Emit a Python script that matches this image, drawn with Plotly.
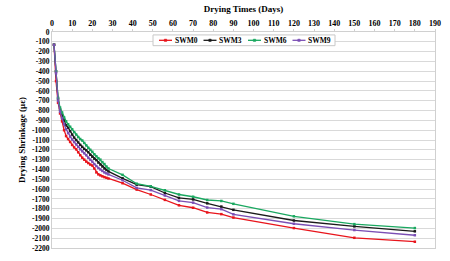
import plotly.graph_objects as go

days = [1, 2, 3, 4, 5, 6, 7, 8, 9, 10, 11, 12, 13, 14, 15, 16, 17, 18, 19, 20,
        21, 22, 23, 24, 25, 26, 27, 28, 35, 42, 49, 56, 63, 70, 77, 84, 90, 120, 150, 180]

swm0 = [-130, -500, -720, -830, -910, -1000, -1060, -1090, -1120, -1150, -1175, -1195, -1225, -1255,
        -1280, -1300, -1320, -1335, -1350, -1360, -1390, -1430, -1450, -1460, -1470, -1478, -1485, -1492,
        -1540, -1605, -1655, -1710, -1765, -1790, -1838, -1855, -1890, -1997, -2096, -2136]
swm3 = [-130, -400, -680, -790, -850, -900, -950, -975, -1010, -1045, -1075, -1100, -1125, -1150,
        -1170, -1190, -1205, -1225, -1250, -1270, -1290, -1305, -1330, -1350, -1370, -1390, -1405, -1420,
        -1490, -1555, -1575, -1640, -1690, -1705, -1745, -1778, -1811, -1920, -1980, -2030]
swm6 = [-130, -400, -670, -770, -820, -870, -910, -940, -965, -990, -1020, -1045, -1070, -1090,
        -1105, -1130, -1155, -1180, -1200, -1220, -1245, -1265, -1285, -1300, -1325, -1345, -1370, -1390,
        -1455, -1545, -1572, -1612, -1655, -1678, -1711, -1721, -1750, -1877, -1957, -1997]
swm9 = [-130, -420, -700, -810, -880, -940, -990, -1030, -1065, -1095, -1120, -1145, -1170, -1195,
        -1215, -1235, -1255, -1280, -1300, -1320, -1345, -1365, -1385, -1400, -1415, -1430, -1440, -1450,
        -1510, -1588, -1610, -1665, -1720, -1738, -1788, -1804, -1857, -1953, -2017, -2070]

names = ["SWM0", "SWM3", "SWM6", "SWM9"]
colors = ["#e8141b", "#1a1a1a", "#1aa860", "#7b4fb5"]
series = [swm0, swm3, swm6, swm9]

x_ticks = list(range(0, 200, 10))
y_ticks = list(range(-2200, 1, 100))

font_family = "Liberation Serif"

W, H = 450, 261
ML, MR, MT, MB = 52, 15, 32, 8
PW, PH = W - ML - MR, H - MT - MB


def px_x(px):
    return (px - ML) / PW


def px_y(py):
    return (H - MB - py) / PH


fig = go.Figure()
for name, col, vals in zip(names, colors, series):
    fig.add_trace(go.Scatter(
        x=days, y=vals, name=name, mode="lines+markers",
        line=dict(color=col, width=1.3),
        marker=dict(color=col, size=2.5, symbol="square"),
        showlegend=False,
    ))

# Custom compact legend (box + short line samples + labels)
shapes = [dict(type="rect", xref="paper", yref="paper",
               x0=px_x(153), x1=px_x(335), y0=px_y(46), y1=px_y(35),
               line=dict(color="#c8c8c8", width=1), fillcolor="white", layer="above")]
annotations = []
leg_start, leg_step, leg_line = 159, 44.5, 13
ly = px_y(40.5)
for i, (name, col) in enumerate(zip(names, colors)):
    x0 = leg_start + i * leg_step
    shapes.append(dict(type="line", xref="paper", yref="paper",
                       x0=px_x(x0), x1=px_x(x0 + leg_line), y0=ly, y1=ly,
                       line=dict(color=col, width=1.3), layer="above"))
    cx = x0 + leg_line / 2
    shapes.append(dict(type="rect", xref="paper", yref="paper",
                       x0=px_x(cx - 1.2), x1=px_x(cx + 1.2), y0=px_y(41.7), y1=px_y(39.3),
                       line=dict(color=col, width=0.5), fillcolor=col, layer="above"))
    annotations.append(dict(xref="paper", yref="paper", x=px_x(x0 + leg_line + 0.5), y=ly,
                            xanchor="left", yanchor="middle", showarrow=False, text=name,
                            font=dict(family=font_family, size=7.5, color="black", weight="bold")))

fig.update_layout(
    width=W, height=H,
    margin=dict(l=ML, r=MR, t=MT, b=MB),
    paper_bgcolor="white", plot_bgcolor="white",
    font=dict(family=font_family, size=8, color="black"),
    showlegend=False,
    shapes=shapes, annotations=annotations,
)
fig.update_xaxes(
    side="top", range=[0, 190], tickvals=x_ticks, ticktext=[str(v) for v in x_ticks],
    showgrid=False, zeroline=False,
    showline=True, linecolor="#d0d0d0", linewidth=1, mirror=True,
    ticks="outside", ticklen=2, tickcolor="#d0d0d0",
    tickfont=dict(family=font_family, size=8, weight="bold"),
    title=dict(text="Drying Times (Days)", standoff=4,
               font=dict(family=font_family, size=9, weight="bold")),
)
fig.update_yaxes(
    range=[-2200, 0], tickvals=y_ticks, ticktext=[str(v) for v in y_ticks],
    showgrid=True, gridcolor="#d9d9d9", gridwidth=1.3, zeroline=False,
    showline=True, linecolor="#d0d0d0", linewidth=1, mirror=True,
    tickfont=dict(family=font_family, size=7.5, weight="bold"),
    title=dict(text="Drying Shrinkage (\u03bc\u03b5)", standoff=4,
               font=dict(family=font_family, size=9, weight="bold")),
)

fig.write_html("out.html")
